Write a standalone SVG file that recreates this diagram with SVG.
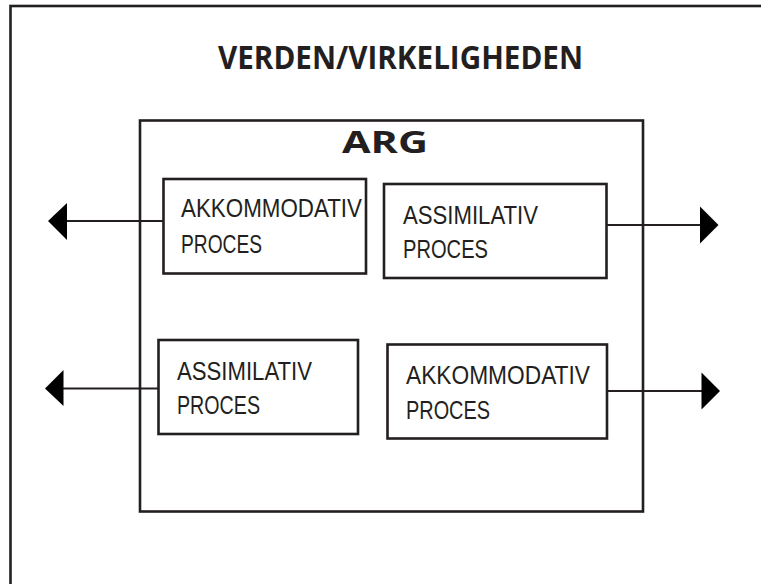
<svg xmlns="http://www.w3.org/2000/svg" width="761" height="584" viewBox="0 0 761 584">
  <style>
    .frame { fill: none; stroke: #231f20; stroke-width: 2.6; }
    .box { fill: #ffffff; stroke: #231f20; stroke-width: 2.6; }
    .link { fill: none; stroke: #231f20; stroke-width: 2.2; }
    .head { fill: #000000; }
    .title { font-family: "Open Sans", "Liberation Sans", sans-serif; font-weight: bold; fill: #231f20; }
    .label { font-family: "Liberation Sans", Arial, sans-serif; font-size: 25px; fill: #231f20; }
  </style>

  <rect x="0" y="0" width="761" height="584" fill="#ffffff"/>

  <!-- outer world frame, continues past the canvas edge -->
  <g id="world">
    <rect class="frame" x="10.5" y="6" width="800" height="640"/>
    <text class="title" x="218" y="68.5" font-size="32" textLength="365" lengthAdjust="spacingAndGlyphs">VERDEN/VIRKELIGHEDEN</text>
  </g>

  <!-- connectors: drawn before the boxes so they start at the box edges -->
  <g id="connectors">
    <line class="link" x1="163" y1="221" x2="64" y2="221"/>
    <polygon class="head" points="48,221 67,203 67,240"/>

    <line class="link" x1="607" y1="225" x2="702" y2="225"/>
    <polygon class="head" points="718.5,225 700,206.5 700,243.5"/>

    <line class="link" x1="158" y1="388.5" x2="60" y2="388.5"/>
    <polygon class="head" points="45,388.5 63.5,370 63.5,406"/>

    <line class="link" x1="607" y1="391" x2="704" y2="391"/>
    <polygon class="head" points="720,391 701.5,372.5 701.5,409.5"/>
  </g>

  <g id="arg">
    <rect class="frame" x="140" y="120.5" width="503" height="391"/>
    <text class="title" x="342" y="153" font-size="30" textLength="86" lengthAdjust="spacingAndGlyphs">ARG</text>
  </g>

  <g id="akkommodativ-top">
    <rect class="box" x="163.5" y="179" width="202.5" height="94.5"/>
    <text class="label" x="181" y="217" textLength="181" lengthAdjust="spacingAndGlyphs">AKKOMMODATIV</text>
    <text class="label" x="181" y="253" textLength="81" lengthAdjust="spacingAndGlyphs">PROCES</text>
  </g>

  <g id="assimilativ-top">
    <rect class="box" x="384" y="184" width="222.5" height="94"/>
    <text class="label" x="403" y="224" textLength="135" lengthAdjust="spacingAndGlyphs">ASSIMILATIV</text>
    <text class="label" x="403" y="258" textLength="85" lengthAdjust="spacingAndGlyphs">PROCES</text>
  </g>

  <g id="assimilativ-bottom">
    <rect class="box" x="158.5" y="340" width="199.5" height="94"/>
    <text class="label" x="177" y="379.5" textLength="135" lengthAdjust="spacingAndGlyphs">ASSIMILATIV</text>
    <text class="label" x="177" y="413.5" textLength="83" lengthAdjust="spacingAndGlyphs">PROCES</text>
  </g>

  <g id="akkommodativ-bottom">
    <rect class="box" x="387.5" y="344.5" width="219.5" height="94"/>
    <text class="label" x="406" y="384" textLength="184" lengthAdjust="spacingAndGlyphs">AKKOMMODATIV</text>
    <text class="label" x="406" y="418.5" textLength="84" lengthAdjust="spacingAndGlyphs">PROCES</text>
  </g>
</svg>
